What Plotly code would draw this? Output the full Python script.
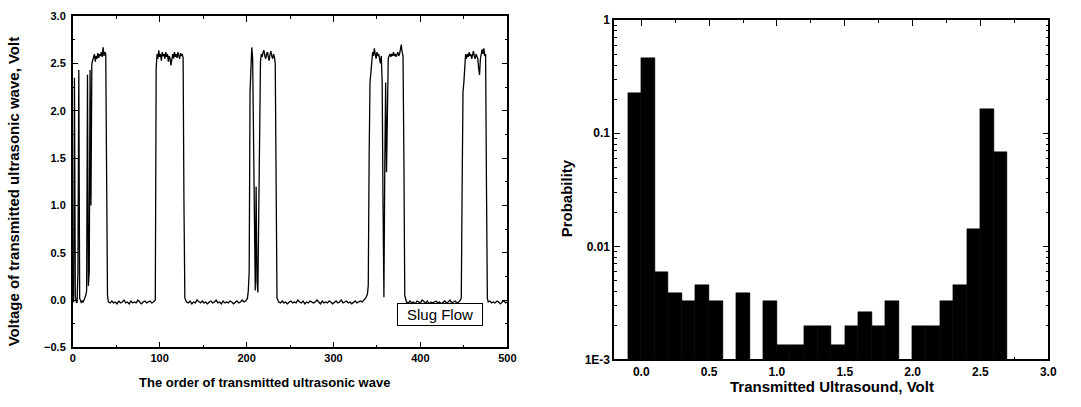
import plotly.graph_objects as go

# ---------------- Left panel: transmitted ultrasonic wave (slug flow) ----------------
order = [*range(0, 42), *range(43, 96, 2), *range(96, 130), *range(131, 202, 2),
         *range(202, 236), *range(237, 340, 2), *range(340, 383), *range(384, 447, 2),
         *range(447, 478), *range(478, 501, 2)]

voltage = [
    # 0-41
    -0.01, -0.02, 2.35, 0.04, -0.02, -0.03, 0.3, 2.43, 0.02, -0.02,
    -0.03, -0.01, -0.02, 0.0, 0.02, 0.05, 0.1, 2.38, 0.15, 0.3,
    2.43, 1.0, 2.5, 2.53, 2.57, 2.6, 2.52, 2.58, 2.55, 2.61,
    2.56, 2.6, 2.58, 2.62, 2.57, 2.67, 2.58, 2.62, 2.6, 1.3,
    0.05, -0.02,
    # 43-95 step 2
    -0.03, -0.01, -0.03, -0.02, -0.04, -0.01, -0.03, -0.02, 0.0, -0.03,
    -0.02, -0.04, -0.01, -0.03, -0.02, -0.03, 0.0, -0.02, -0.04, -0.02,
    -0.01, -0.03, -0.02, -0.01, -0.03, -0.02, 0.0,
    # 96-129
    2.45, 2.6, 2.55, 2.64, 2.57, 2.6, 2.53, 2.62, 2.58, 2.6,
    2.55, 2.62, 2.57, 2.6, 2.52, 2.58, 2.55, 2.48, 2.56, 2.6,
    2.55, 2.62, 2.57, 2.6, 2.56, 2.62, 2.58, 2.55, 2.61, 2.58,
    2.6, 2.56, 1.0, 0.02,
    # 131-201 step 2
    -0.02, -0.03, -0.01, -0.04, -0.02, -0.03, 0.0, -0.02, -0.03, -0.01,
    -0.03, -0.02, -0.04, -0.02, -0.01, -0.03, -0.02, 0.0, -0.03, -0.02,
    -0.04, -0.01, -0.03, -0.02, -0.03, -0.01, -0.02, -0.04, -0.02, -0.01,
    -0.03, -0.02, 0.0, -0.02, -0.01, 0.02,
    # 202-235
    0.1, 0.3, 2.2, 2.58, 2.67, 2.55, 1.8, 0.6, 0.1, 1.2,
    0.2, 0.08, 1.0, 2.2, 2.52, 2.6, 2.57, 2.62, 2.64, 2.58,
    2.55, 2.6, 2.62, 2.57, 2.53, 2.6, 2.63, 2.58, 2.55, 2.6,
    2.57, 2.5, 1.2, 0.02,
    # 237-339 step 2
    -0.02, -0.03, -0.01, -0.03, -0.02, -0.04, -0.02, -0.01, -0.03, -0.02,
    -0.03, 0.0, -0.02, -0.03, -0.01, -0.04, -0.02, -0.03, -0.01, -0.02,
    -0.03, -0.02, 0.0, -0.02, -0.04, -0.01, -0.03, -0.02, -0.03, -0.01,
    -0.02, -0.04, -0.02, -0.01, -0.03, -0.02, 0.0, -0.03, -0.02, -0.01,
    -0.03, -0.02, -0.04, -0.02, -0.01, -0.03, -0.02, -0.01, -0.02, 0.0,
    0.02, 0.06,
    # 340-382
    0.15, 1.5, 2.3, 2.4, 2.55, 2.62, 2.58, 2.66, 2.6, 2.55,
    2.62, 2.58, 2.6, 2.55, 2.5, 2.58, 2.3, 1.0, 0.03, 1.4,
    2.3, 1.35, 2.4, 2.55, 2.58, 2.6, 2.57, 2.6, 2.58, 2.62,
    2.58, 2.6, 2.57, 2.6, 2.62, 2.58, 2.6, 2.65, 2.7, 2.62,
    2.58, 1.5, 0.05,
    # 384-446 step 2
    -0.02, -0.03, -0.01, -0.03, -0.02, -0.04, -0.01, -0.02, -0.03, 0.0,
    -0.02, -0.03, -0.01, -0.04, -0.02, -0.03, -0.02, -0.01, -0.03, -0.02,
    -0.04, -0.02, -0.01, -0.03, -0.02, 0.0, -0.03, -0.02, -0.01, -0.03,
    -0.02, 0.0,
    # 447-477
    0.02, 1.2, 2.2, 2.3, 2.5, 2.6, 2.55, 2.6, 2.57, 2.62,
    2.58, 2.6, 2.55, 2.6, 2.63, 2.58, 2.55, 2.6, 2.58, 2.55,
    2.45, 2.38, 2.55, 2.6, 2.65, 2.6, 2.66, 2.58, 2.6, 1.2,
    0.02,
    # 478-500 step 2
    -0.02, -0.01, -0.03, -0.02, -0.03, -0.01, -0.02, -0.04, -0.02, -0.01,
    -0.03, -0.02,
]
assert len(order) == len(voltage), (len(order), len(voltage))

left_xticks = [0, 100, 200, 300, 400, 500]
left_yticks = [-0.5, 0.0, 0.5, 1.0, 1.5, 2.0, 2.5, 3.0]

# ---------------- Right panel: probability histogram ----------------
bin_centers = [-0.05, 0.05, 0.15, 0.25, 0.35, 0.45, 0.55, 0.65, 0.75, 0.85,
               0.95, 1.05, 1.15, 1.25, 1.35, 1.45, 1.55, 1.65, 1.75, 1.85,
               1.95, 2.05, 2.15, 2.25, 2.35, 2.45, 2.55, 2.65]
probability = [0.227, 0.46, 0.0059, 0.0039, 0.00327, 0.00455, 0.00327, None, 0.0039, None,
               0.00327, 0.00133, 0.00133, 0.00196, 0.00196, 0.00133, 0.00196, 0.00261, 0.00196, 0.00327,
               None, 0.00196, 0.00196, 0.00327, 0.00455, 0.0142, 0.163, 0.0675]
right_yticks = [0.001, 0.01, 0.1, 1]
right_ytick_text = ["1E-3", "0.01", "0.1", "1"]
right_xticks = [0.0, 0.5, 1.0, 1.5, 2.0, 2.5, 3.0]

W, H = 1081, 407
FONT = "Liberation Sans, Arial, sans-serif"

fig = go.Figure()
fig.add_trace(go.Scatter(x=order, y=voltage, mode="lines",
                         line=dict(color="black", width=1.3),
                         xaxis="x", yaxis="y", showlegend=False))
fig.add_trace(go.Bar(x=bin_centers, y=probability, width=0.1,
                     marker=dict(color="black", line=dict(color="black", width=0.5)),
                     xaxis="x2", yaxis="y2", showlegend=False))

def ax(**kw):
    base = dict(showline=True, linecolor="black", linewidth=1.5, mirror="allticks",
                ticks="inside", ticklen=6, tickwidth=1.3, tickcolor="black",
                showgrid=False, zeroline=False,
                tickfont=dict(family=FONT, size=11, color="black", weight="bold"))
    base.update(kw)
    return base

fig.update_layout(
    width=W, height=H,
    margin=dict(l=0, r=0, t=0, b=0),
    paper_bgcolor="white", plot_bgcolor="white",
    bargap=0,
    xaxis=ax(domain=[70.5 / W, 510 / W], range=[0, 500], tickmode="array",
             tickvals=left_xticks, anchor="y",
             minor=dict(ticks="inside", ticklen=3, tickwidth=1, tickcolor="black",
                        tick0=0, dtick=50)),
    yaxis=ax(domain=[1 - 352.5 / H, 1 - 9.5 / H], range=[-0.5, 3.0], tickmode="array",
             tickvals=left_yticks, tickformat=".1f", anchor="x", ticklabelstandoff=3,
             minor=dict(ticks="inside", ticklen=3, tickwidth=1, tickcolor="black",
                        tick0=0, dtick=0.25)),
    xaxis2=ax(domain=[618 / W, 1057 / W], range=[-0.2, 3.0], tickmode="array",
              tickvals=right_xticks, tickformat=".1f", anchor="y2",
              tickfont=dict(family=FONT, size=12, color="black", weight="bold"),
              minor=dict(ticks="inside", ticklen=3, tickwidth=1, tickcolor="black",
                         tick0=0, dtick=0.25)),
    yaxis2=ax(domain=[1 - 365 / H, 1 - 13.5 / H], type="log", range=[-3, 0],
              tickmode="array", tickvals=right_yticks, ticktext=right_ytick_text,
              anchor="x2",
              tickfont=dict(family=FONT, size=12, color="black", weight="bold"),
              minor=dict(ticks="inside", ticklen=3, tickwidth=1, tickcolor="black",
                         tickvals=[m * 10 ** e for e in (-3, -2, -1) for m in range(2, 10)])),
)

title_font = dict(family=FONT, color="black", weight="bold")
fig.add_annotation(text="The order of transmitted ultrasonic wave", xref="paper", yref="paper",
                   x=264 / W, y=1 - 389 / H, showarrow=False, xanchor="center", yanchor="middle",
                   font=dict(size=13, **title_font))
fig.add_annotation(text="Voltage of transmitted ultrasonic wave, Volt", xref="paper", yref="paper",
                   x=11 / W, y=1 - 191 / H, showarrow=False, textangle=-90,
                   xanchor="center", yanchor="middle", font=dict(size=15, **title_font))
fig.add_annotation(text="Transmitted Ultrasound, Volt", xref="paper", yref="paper",
                   x=838 / W, y=1 - 393 / H, showarrow=False, xanchor="center", yanchor="middle",
                   font=dict(size=15, **title_font))
fig.add_annotation(text="Probability", xref="paper", yref="paper",
                   x=569.5 / W, y=1 - 198 / H, showarrow=False, textangle=-90,
                   xanchor="center", yanchor="middle", font=dict(size=15, **title_font))
fig.add_annotation(text="Slug Flow", xref="x", yref="y", x=422, y=-0.152,
                   showarrow=False, xanchor="center", yanchor="middle",
                   bordercolor="black", borderwidth=1, borderpad=2, bgcolor="white",
                   width=80, height=17,
                   font=dict(family=FONT, size=15, color="black"))

fig.write_html("out.html")
